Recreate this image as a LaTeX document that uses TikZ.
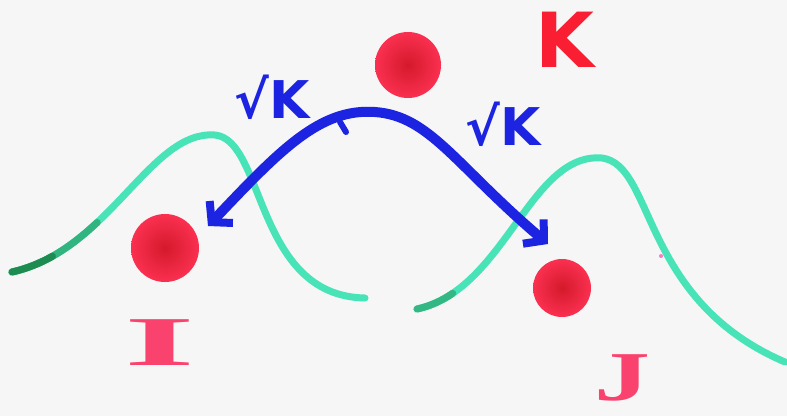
\documentclass[tikz,border=0pt]{standalone}
\usepackage{fontspec}
\setmainfont{DejaVu Sans}
\newfontfamily\serifhand{Liberation Serif}
\usetikzlibrary{arrows.meta}
\definecolor{bgc}{RGB}{246,246,246}
\definecolor{curvec}{RGB}{72,228,184}
\definecolor{curvedark}{RGB}{30,140,80}
\definecolor{bluec}{RGB}{28,36,226}
\definecolor{redc}{RGB}{250,30,50}
\definecolor{pinkc}{RGB}{250,120,200}
\tikzset{
  bell/.style={draw=curvec, line width=7pt, line cap=round},
  jump/.style={draw=bluec, line width=10pt, line cap=round, line join=round,
    {Straight Barb[length=14pt,width=32pt,line width=8pt]}-{Straight Barb[length=14pt,width=32pt,line width=8pt]}},
  blob/.style={circle, minimum size=#1, inner sep=0pt, shading=radial,
    inner color=redc!85!black, outer color=redc!80!pinkc},
  bluelabel/.style={text=bluec, font=\bfseries\fontsize{52}{52}\selectfont},
  redlabel/.style={text=redc, font=\bfseries\fontsize{76}{76}\selectfont},
  serlabel/.style={text=redc!60!pinkc, font=\serifhand\bfseries\fontsize{70}{70}\selectfont},
}
\begin{document}
\begin{tikzpicture}[x=1pt,y=-1pt]
\useasboundingbox[fill=bgc] (0,0) rectangle (787,416);
% bell curves
\draw[bell] (12,272) .. controls (110,250) and (150,130) .. (215,135)
  .. controls (265,140) and (255,296) .. (365,298);
\draw[bell, draw=curvedark!55!curvec] (12,272) .. controls (46.3,264.3) and (73.5,244.6) .. (97.15,222.46);
\draw[bell, draw=curvedark] (12,272) .. controls (26.7,268.7) and (40.1,263.2) .. (52.47,256.24);
\draw[bell] (417,309) .. controls (505,290) and (530,152) .. (602,158)
  .. controls (655,165) and (640,300) .. (785,362);
\draw[bell, draw=curvedark!50!curvec] (417,309) .. controls (430.2,306.15) and (441.98,300.62) .. (452.72,293.3);
% blobs
\node[blob=66pt] (b1) at (408,65) {};
\node[blob=68pt] (b2) at (165,248) {};
\node[blob=58pt] (b3) at (562,288) {};
\node[circle, fill=pinkc, minimum size=4pt, inner sep=0pt] (sp) at (661,256) {};
% blue arrow
\coordinate (aL) at (208,226);
\coordinate (aR) at (548,244);
\draw[jump] (aL) .. controls (280,150) and (320,108) .. (375,112)
  .. controls (430,116) and (455,165) .. (aR);
\draw[bluec, line width=6pt, line cap=round] (340,122) -- (346,132);
% labels
\node[bluelabel] (k1) at (272,97) {√K};
\node[bluelabel] (k2) at (503,124) {√K};
\node[redlabel] (K) at (565,40) {K};
\node[serlabel, xscale=2.6] (I) at (160,343) {I};
\node[serlabel, xscale=1.6] (J) at (622,378) {J};
\end{tikzpicture}
\end{document}
